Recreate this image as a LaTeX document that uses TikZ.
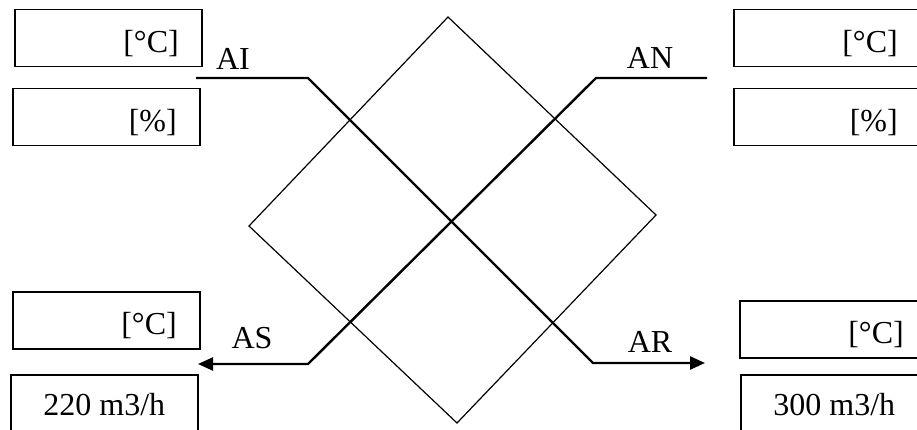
\documentclass[tikz,border=0pt]{standalone}
\usepackage{fontspec}
\setmainfont{Liberation Serif}
\usetikzlibrary{arrows.meta}
\begin{document}
\begin{tikzpicture}[x=1pt,y=-1pt,
  font=\fontsize{32}{38}\selectfont,
  valbox/.style={draw,line width=1.5pt,minimum height=57pt,inner xsep=23pt,inner ysep=0pt,text width=141pt,align=right,text height=28pt,text depth=0pt,anchor=north west},
  flowbox/.style={draw,line width=1.5pt,minimum height=57pt,minimum width=187pt,inner sep=0pt,text height=25pt,text depth=0pt,anchor=north west},
  lbl/.style={anchor=base,inner sep=0pt},
  flow/.style={line width=2.4pt},
  tip/.style={-{Triangle[length=15pt,width=13pt]}},
  hx/.style={line width=1.2pt,line join=miter}]
\useasboundingbox (0,0) rectangle (917,430);
\begin{scope}
\clip (0,0) rectangle (917,430);
% boxes
\node[valbox] (tlT) at (14,9) {[°C]};
\node[valbox] (tlH) at (12,88) {[\%]};
\node[valbox] (trT) at (733,9) {[°C]};
\node[valbox] (trH) at (733,88) {[\%]};
\node[valbox] (blT) at (12,291) {[°C]};
\node[flowbox] (blF) at (10,374) {220 m3/h};
\node[valbox] (brT) at (739,300) {[°C]};
\node[flowbox] (brF) at (740,374) {300 m3/h};
\end{scope}
% exchanger
\coordinate (dT) at (448,17);
\coordinate (dR) at (656,215);
\coordinate (dB) at (457,423);
\coordinate (dL) at (249,226);
\draw[hx] (dT) -- (dR) -- (dB) -- (dL) -- cycle;
% flow points
\coordinate (aiS) at (196,78);
\coordinate (aiK) at (308,78);
\coordinate (arK) at (593,363);
\coordinate (arE) at (705,363);
\coordinate (anS) at (707,78);
\coordinate (anK) at (596,78);
\coordinate (asK) at (308,364);
\coordinate (asE) at (198,364);
\draw[flow,tip] (aiS) -- (aiK) -- (arK) -- (arE);
\draw[flow,tip] (anS) -- (anK) -- (asK) -- (asE);
% labels
\node[lbl] (lAI) at (233,70) {AI};
\node[lbl] (lAN) at (650,69) {AN};
\node[lbl] (lAS) at (252,348) {AS};
\node[lbl] (lAR) at (650,352) {AR};
\end{tikzpicture}
\end{document}
